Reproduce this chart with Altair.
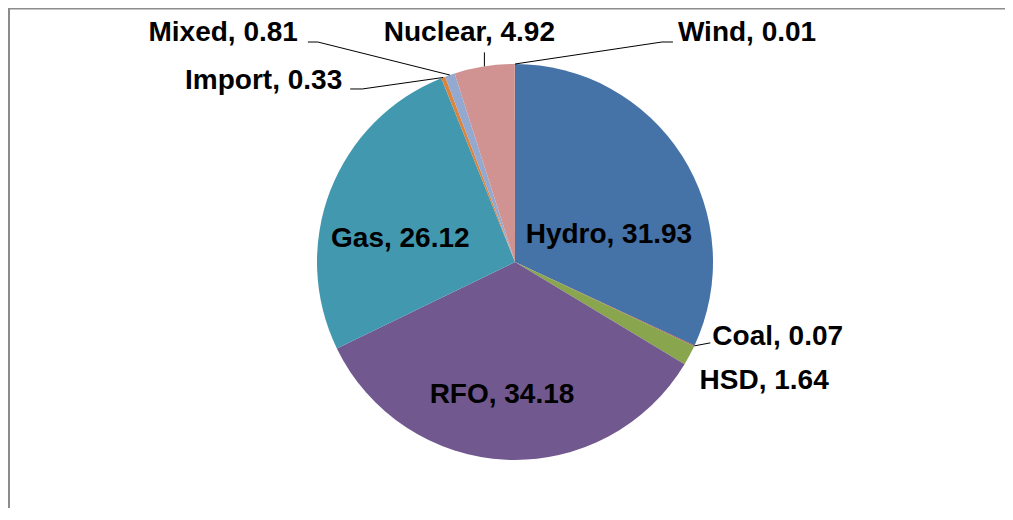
import math
import altair as alt
import pandas as pd

# ---- data ----
categories = ["Hydro", "Coal", "HSD", "RFO", "Gas", "Import", "Mixed", "Nuclear", "Wind"]
values = [31.93, 0.07, 1.64, 34.18, 26.12, 0.33, 0.81, 4.92, 0.01]

# ---- styling / layout ----
colors = ["#4572A7", "#AA4643", "#89A54E", "#71588F", "#4198AF",
          "#DB843D", "#93A9CF", "#D19392", "#B9CD96"]
CX, CY, R = 507, 254, 198          # pie centre and radius (plot coords)
FONT = "Liberation Sans"
FONT_SIZE = 28

# label placement: (align, dx, dy) relative to the slice's outer edge at mid-angle
label_place = {
    "Hydro":   ("center", -73, 79),
    "Coal":    ("left", 18, -9),
    "HSD":     ("left", 10, 26),
    "RFO":     ("center", -4, -65),
    "Gas":     ("center", 70, 48),
    "Import":  ("right", -101, 3.5),
    "Mixed":   ("right", -152, -42.5),
    "Nuclear": ("center", -15, -33.5),
    "Wind":    ("left", 163, -31.5),
}
# leader line polylines, offsets relative to the slice's outer edge
leaders = {
    "Coal":    [(0, 0), (16, -3)],
    "Import":  [(0, 0), (-81, 11.5), (-93, 11.5)],
    "Mixed":   [(0, 0), (-132, -33), (-142, -33)],
    "Nuclear": [(0, 0), (0, -14)],
    "Wind":    [(0, 0), (147, -22), (158, -22)],
}

# ---- derived tables ----
df = pd.DataFrame({"category": categories, "value": values,
                   "order": list(range(len(categories)))})
total = sum(values)
cum = 0.0
edge = {}
for c, v in zip(categories, values):
    mid = (cum + v / 2) / total * 2 * math.pi
    cum += v
    edge[c] = (CX + R * math.sin(mid), CY - R * math.cos(mid))

lab_rows = []
for c, v in zip(categories, values):
    a, dx, dy = label_place[c]
    ex, ey = edge[c]
    lab_rows.append({"label": f"{c}, {v:.2f}", "align": a, "lx": ex + dx, "ly": ey + dy})
labels = pd.DataFrame(lab_rows)

seg_rows = []
for c, pts in leaders.items():
    ex, ey = edge[c]
    for (ax, ay), (bx, by) in zip(pts[:-1], pts[1:]):
        seg_rows.append({"x": ex + ax, "y": ey + ay, "x2": ex + bx, "y2": ey + by})
segs = pd.DataFrame(seg_rows)

# ---- chart ----
pie = alt.Chart(df).mark_arc(outerRadius=R, x=CX, y=CY).encode(
    theta=alt.Theta("value:Q", stack=True),
    color=alt.Color("category:N", scale=alt.Scale(domain=categories, range=colors), legend=None),
    order=alt.Order("order:Q"),
)

lines = alt.Chart(segs).mark_rule(color="black", strokeWidth=1).encode(
    x=alt.X("x:Q", scale=None, axis=None),
    y=alt.Y("y:Q", scale=None, axis=None),
    x2="x2:Q",
    y2="y2:Q",
)

text_layers = []
for a in ["left", "center", "right"]:
    text_layers.append(
        alt.Chart(labels).transform_filter(alt.datum.align == a).mark_text(
            align=a, baseline="middle", font=FONT, fontSize=FONT_SIZE,
            fontWeight="bold", color="black",
        ).encode(
            x=alt.X("lx:Q", scale=None, axis=None),
            y=alt.Y("ly:Q", scale=None, axis=None),
            text="label:N",
        )
    )

dummy = pd.DataFrame({"d": [0]})
border_top = alt.Chart(dummy).mark_rule(color="#8c8c8c", strokeWidth=1.5).encode(
    x=alt.value(0), x2=alt.value(997), y=alt.value(0.75))
border_left = alt.Chart(dummy).mark_rule(color="#8c8c8c", strokeWidth=2).encode(
    x=alt.value(1), y=alt.value(0), y2=alt.value(500))

chart = alt.layer(pie, lines, *text_layers, border_top, border_left).properties(
    width=997, height=500, padding=0, autosize="none",
).configure_view(strokeWidth=0)

chart.save("out.html", embed_options={"renderer": "svg", "actions": False})
